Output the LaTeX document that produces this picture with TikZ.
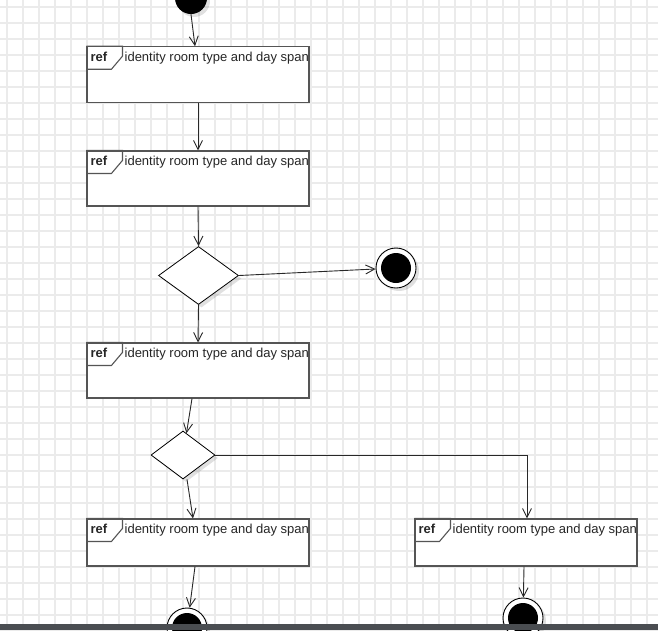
\documentclass[tikz,border=0pt]{standalone}
\usepackage{fontspec}
\setmainfont{Liberation Sans}
\usetikzlibrary{arrows.meta,shapes.geometric,shadows}
\definecolor{gridgray}{RGB}{235,235,235}
\definecolor{framegray}{RGB}{85,85,85}
\definecolor{linegray}{RGB}{40,40,40}
\definecolor{bargray}{RGB}{74,77,81}
\newcommand{\reftext}{identity room type and day span}
\newcommand{\refbox}[4]{%
  \node [refframe, minimum height=#4] (#1) at (#2,#3) {};
  \draw [refline] (#1.north west) -- ++(36,0) -- ++(0,10) -- ++(-11,13) -- ++(-25,0);
  \node [reflabel, font=\fontsize{13}{15}\selectfont\bfseries] (#1ref) at ([shift={(4,15)}]#1.north west) {ref};
  \node [reflabel] (#1name) at ([shift={(38,15)}]#1.north west) {\reftext};
}
\newcommand{\finalnode}[3]{%
  \node [final] (#1) at (#2,#3) {};
  \fill (#1) circle (15);
}
\tikzset{
  softshadow/.style={drop shadow={shadow xshift=3pt, shadow yshift=-3pt, opacity=0.12, fill=black}},
  refframe/.style={rectangle, draw=framegray, fill=white, line width=1.1pt, minimum width=222, inner sep=0},
  refline/.style={draw=framegray, line width=1.1pt},
  reflabel/.style={anchor=base west, inner sep=0, text=black!85, font=\fontsize{13}{15}\selectfont},
  start/.style={circle, fill=black, minimum size=32, inner sep=0, softshadow},
  decision/.style={diamond, draw=black, fill=white, line width=0.8pt, inner sep=0, softshadow},
  final/.style={circle, draw=black, fill=white, line width=0.9pt, minimum size=40, inner sep=0, softshadow},
  flow/.style={draw=linegray, line width=0.9pt, -{Straight Barb[length=9pt,width=9pt]}}
}
\begin{document}
\begin{tikzpicture}[x=1pt, y=-1pt]
  \useasboundingbox (0,0) rectangle (658,630);
  \clip (0,0) rectangle (658,630);
  \fill [white] (0,0) rectangle (658,630);
  % background grid
  \foreach \k in {0,...,40}
    \draw [gridgray, line width=1.6pt] (7+16*\k,0) -- (7+16*\k,630);
  \foreach \k in {0,...,39}
    \draw [gridgray, line width=1.6pt] (0,7+16*\k) -- (658,7+16*\k);

  \node [start] (start) at (191,-2) {};
  \refbox{r1}{198}{74.5}{55.5}
  \refbox{r2}{198}{178.5}{55}
  \node [decision, minimum width=80, minimum height=58] (d1) at (198.5,275.5) {};
  \finalnode{f1}{396}{268}
  \refbox{r3}{198}{370.5}{55}
  \node [decision, minimum width=64, minimum height=48] (d2) at (183,455) {};
  \refbox{r4}{198}{542.5}{47}
  \refbox{r5}{526}{542.5}{47}
  \finalnode{f2}{187}{628}
  \finalnode{f3}{523}{618}

  \draw [flow] (start.south) to ([xshift=-3]r1.north);
  \draw [flow] (r1.south) to (r2.north);
  \draw [flow] (r2.south) to (d1.north);
  \draw [flow] (d1.east) to (f1);
  \draw [flow] (d1.south) to (r3.north);
  \draw [flow] ([xshift=-6]r3.south) to (d2);
  \draw [flow] ([xshift=4]d2.south) to ([xshift=-5]r4.north);
  \draw [flow] (d2.east) -| ([xshift=1]r5.north);
  \draw [flow] ([xshift=-3]r4.south) to (f2);
  \draw [flow] ([xshift=-2]r5.south) to (f3);

  % window edge
  \fill [bargray] (0,624) rectangle (658,630);
\end{tikzpicture}
\end{document}
